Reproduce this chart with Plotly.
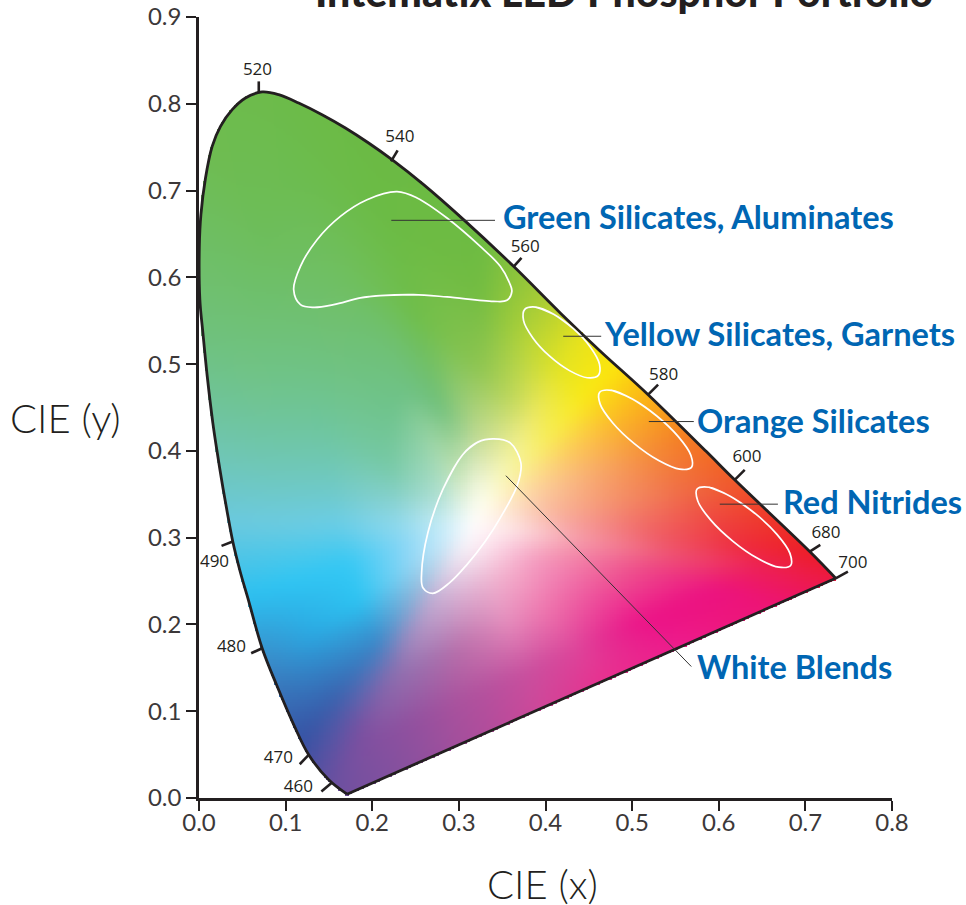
import numpy as np
import plotly.graph_objects as go

# Spectral locus (CIE x, y)
locus_x = [0.1709,0.1497,0.1266,0.1094,0.0895,0.0729,0.0565,0.0475,0.0390,0.0325,0.0277,0.0205,0.0160,0.0095,0.0045,0.0010,0.0004,0.0022,0.0075,0.0152,0.0248,0.0383,0.0536,0.0729,0.0920,0.1151,0.1421,0.1690,0.1958,0.2228,0.2593,0.3054,0.3631,0.4170,0.4627,0.5185,0.5857,0.6184,0.7050,0.7350]
locus_y = [0.0044,0.0210,0.0498,0.0843,0.1304,0.1726,0.2300,0.2610,0.2955,0.3300,0.3570,0.4015,0.4320,0.4860,0.5360,0.5740,0.6360,0.6722,0.7145,0.7509,0.7740,0.7932,0.8067,0.8136,0.8105,0.8009,0.7874,0.7721,0.7548,0.7356,0.7068,0.6665,0.6127,0.5590,0.5155,0.4648,0.3992,0.3666,0.2840,0.2532]

# Phosphor regions
green_x = [0.2477,0.2091,0.1863,0.1555,0.1324,0.1171,0.1093,0.1171,0.1363,0.1632,0.1940,0.2286,0.2517,0.2863,0.3247,0.3478,0.3585,0.3612,0.3555,0.3400,0.2863,0.2477]
green_y = [0.5801,0.5789,0.5763,0.5685,0.5654,0.5685,0.5858,0.6127,0.6434,0.6703,0.6895,0.6987,0.6915,0.6684,0.6357,0.6127,0.5935,0.5839,0.5735,0.5723,0.5774,0.5801]
yellow_x = [0.4325,0.4094,0.3887,0.3760,0.3747,0.3852,0.4045,0.4277,0.4483,0.4610,0.4623,0.4519,0.4325]
yellow_y = [0.5406,0.5575,0.5657,0.5630,0.5501,0.5305,0.5094,0.4925,0.4843,0.4870,0.4999,0.5195,0.5406]
orange_x = [0.5285,0.5003,0.4761,0.4625,0.4631,0.4777,0.5025,0.5307,0.5549,0.5685,0.5679,0.5533,0.5285]
orange_y = [0.4402,0.4597,0.4698,0.4676,0.4539,0.4322,0.4084,0.3889,0.3789,0.3810,0.3948,0.4164,0.4402]
red_x = [0.6419,0.6132,0.5887,0.5750,0.5758,0.5908,0.6161,0.6448,0.6694,0.6830,0.6822,0.6672,0.6419]
red_y = [0.3279,0.3478,0.3581,0.3560,0.3422,0.3202,0.2961,0.2762,0.2660,0.2680,0.2819,0.3038,0.3279]
white_x = [0.2815,0.3046,0.3219,0.3405,0.3593,0.3716,0.3677,0.3478,0.3305,0.3093,0.2891,0.2699,0.2585,0.2570,0.2642,0.2815]
white_y = [0.3556,0.3959,0.4101,0.4138,0.4092,0.3861,0.3612,0.3228,0.2959,0.2690,0.2479,0.2358,0.2423,0.2596,0.3057,0.3556]

# Wavelength marks
wave_names = ["520","540","560","580","600","680","700","490","480","470","460"]
wave_x0 = [0.0690,0.2217,0.3635,0.5185,0.6184,0.7050,0.7350,0.0390,0.0729,0.1266,0.1536]
wave_y0 = [0.8131,0.7336,0.6127,0.4649,0.3666,0.2840,0.2532,0.2955,0.1726,0.0498,0.0179]
wave_x1 = [0.0690,0.2293,0.3723,0.5300,0.6300,0.7172,0.7491,0.0260,0.0602,0.1163,0.1413]
wave_y1 = [0.8258,0.7463,0.6224,0.4764,0.3781,0.2917,0.2609,0.2905,0.1668,0.0389,0.0075]
wave_lx = [0.0675,0.2318,0.3766,0.5363,0.6326,0.7238,0.7549,0.0179,0.0375,0.0917,0.1148]
wave_ly = [0.8382,0.7609,0.6342,0.4867,0.3923,0.3047,0.2702,0.2713,0.1734,0.0455,0.0121]

# Family labels and leaders
fam_names = ["Green Silicates, Aluminates","Yellow Silicates, Garnets","Orange Silicates","Red Nitrides","White Blends"]
fam_x = [0.3484,0.4649,0.5722,0.6714,0.5722]
fam_y = [0.6700,0.5351,0.4349,0.3416,0.1515]
lead_x0 = [0.2220,0.4205,0.5193,0.6012,0.3543]
lead_y0 = [0.6657,0.5321,0.4338,0.3386,0.3714]
lead_x1 = [0.3417,0.4643,0.5712,0.6683,0.5683]
lead_y1 = [0.6657,0.5321,0.4338,0.3386,0.1515]

x_ticks = [0.0,0.1,0.2,0.3,0.4,0.5,0.6,0.7,0.8]
y_ticks = [0.0,0.1,0.2,0.3,0.4,0.5,0.6,0.7,0.8,0.9]

# Colours sampled along rays leaving the white point, at fractions of the way to the locus
white_pt = (0.315, 0.317)
ray_deg = [-162,-145,-128,-118,-95,-70,-50,-30,-15,-5,8,22,35,48,60,72,88,105,125,145,165,180]
ring_t = [0.0,0.12,0.30,0.55,0.80,1.00]
ring_00 = ["#ffffff"]*22
ring_12 = ["#c8ecfa","#d0ecfa","#d8e6f4","#efe8f4","#f8f0f6","#fbeaf3","#fde6ef","#fde4ed","#fde4e8","#fde6e6","#fee9dd","#fef0e0","#fff6e0","#fffbe8","#fdfde8","#f8fbe8","#f2f7e4","#c8e4b4","#a8dcc0","#b0e0d8","#c0e8ec","#c8ecf6"]
ring_30 = ["#88d6f6","#92d6f4","#98bcdc","#c0a8d0","#e0b4d4","#efb4d0","#f4aecb","#f49cc0","#f599b0","#f6a0a8","#f9b79c","#fbcca4","#fde0a0","#f9f2a0","#f6f6b0","#e4eaa8","#c0da94","#70c07c","#6ec38c","#76c9a6","#88d2d2","#90d9ec"]
ring_55 = ["#35c8f4","#2cc4f2","#3a86c8","#8c70b0","#bb70ab","#e48abb","#ee76ae","#ee5c9f","#ee4c8a","#ef5a66","#f48e6a","#f8ac70","#fcc860","#f8ee50","#eee96a","#c0d85c","#8cc450","#6fbe4a","#70c070","#6ec59a","#6fc9c4","#6bcde6"]
ring_80 = ["#2fc5f3","#2ba6e0","#3a62ae","#7c4fa0","#a9519d","#c84f9e","#dd449a","#ec1287","#ec1280","#ee2a3c","#ef6a45","#f58f3a","#fbb82a","#faea14","#e4e424","#bcd636","#72bc42","#6bbb44","#6dbd58","#70c386","#6fc7b8","#6ccbe0"]
ring_99 = ["#2cc0f0","#3a87c6","#3651a3","#6a50a0","#a04f9c","#cf4799","#e8308f","#ed1c8c","#ed1473","#ed1c26","#f0562a","#f47b20","#fbb016","#fce60c","#e6e21c","#a9cc34","#6cbb42","#6bba44","#6ebc50","#6fc17c","#6fc6b4","#6ac9df"]

BLACK = "#231f20"
BLUE = "#0066b3"


def hex_rgb(cs):
    return [[int(c[i:i + 2], 16) for i in (1, 3, 5)] for c in cs]


# Raster of the colour field, masked by the locus
step = 0.002
gx = np.arange(0.0, 0.76, step)
gy = np.arange(0.0, 0.83, step)
X, Y = np.meshgrid(gx, gy)
lx, ly = np.array(locus_x), np.array(locus_y)

# distance from the white point to the locus for every direction
table_deg = np.arange(-180.0, 180.5, 0.5)
dirs = np.stack([np.cos(np.radians(table_deg)), np.sin(np.radians(table_deg))], 1)
ax, ay = lx - white_pt[0], ly - white_pt[1]
bx, by = np.roll(ax, -1) - ax, np.roll(ay, -1) - ay
reach = np.zeros(len(table_deg))
for k, (dx, dy) in enumerate(dirs):
    det = dx * by - dy * bx + 1e-12
    s = (ax * by - ay * bx) / det
    u = (ax * dy - ay * dx) / det
    reach[k] = s[(s > 0) & (u >= 0) & (u <= 1)].min()

ang = np.degrees(np.arctan2(Y - white_pt[1], X - white_pt[0]))
rad = np.hypot(X - white_pt[0], Y - white_pt[1])
frac = np.clip(rad / np.interp(ang, table_deg, reach), 0, 1)

rings = np.array([hex_rgb(r) for r in (ring_00, ring_12, ring_30, ring_55, ring_80, ring_99)], float)  # ring, ray, rgb
rays = np.array(ray_deg + [ray_deg[0] + 360], float)
rings = np.concatenate([rings, rings[:, :1]], 1)
ang2 = np.where(ang < rays[0], ang + 360, ang)
ri = np.clip(np.searchsorted(rays, ang2) - 1, 0, len(rays) - 2)
ra = (ang2 - rays[ri]) / (rays[ri + 1] - rays[ri])
ti = np.clip(np.searchsorted(ring_t, frac) - 1, 0, len(ring_t) - 2)
t_arr = np.array(ring_t)
ta = (frac - t_arr[ti]) / (t_arr[ti + 1] - t_arr[ti])
field = ((1 - ta)[..., None] * ((1 - ra)[..., None] * rings[ti, ri] + ra[..., None] * rings[ti, ri + 1])
         + ta[..., None] * ((1 - ra)[..., None] * rings[ti + 1, ri] + ra[..., None] * rings[ti + 1, ri + 1]))

# soften the joins between rays
kernel = np.exp(-0.5 * (np.arange(-10, 11) / 4.5) ** 2)
kernel /= kernel.sum()
pad = 10
padded = np.pad(field, ((pad, pad), (pad, pad), (0, 0)), mode="edge")
padded = np.apply_along_axis(lambda v: np.convolve(v, kernel, mode="same"), 0, padded)
padded = np.apply_along_axis(lambda v: np.convolve(v, kernel, mode="same"), 1, padded)
field = padded[pad:-pad, pad:-pad]

cx, cy = 0.3, 0.4
mx = (lx - cx) * 1.003 + cx
my = (ly - cy) * 1.003 + cy
inside = np.zeros(X.shape, bool)
for i in range(len(mx)):
    j = (i - 1) % len(mx)
    cond = (my[i] > Y) != (my[j] > Y)
    xc = (mx[j] - mx[i]) * (Y - my[i]) / (my[j] - my[i] + 1e-12) + mx[i]
    inside ^= cond & (X < xc)
field[~inside] = 255

fig = go.Figure()
fig.add_trace(go.Image(z=np.round(field).astype(int).tolist(), colormodel="rgb",
                       x0=float(gx[0]), dx=step, y0=float(gy[0]), dy=step, hoverinfo="skip"))
fig.add_trace(go.Scatter(x=locus_x, y=locus_y, mode="lines",
                         line=dict(color=BLACK, width=2.8, shape="spline", smoothing=1.0), hoverinfo="skip"))
fig.add_trace(go.Scatter(x=[locus_x[-1], locus_x[0]], y=[locus_y[-1], locus_y[0]], mode="lines",
                         line=dict(color=BLACK, width=2.8), hoverinfo="skip"))
for a, b, c, d in zip(wave_x0, wave_y0, wave_x1, wave_y1):
    fig.add_trace(go.Scatter(x=[a, c], y=[b, d], mode="lines", line=dict(color=BLACK, width=2.6), hoverinfo="skip"))
for rx, ry in [(green_x, green_y), (yellow_x, yellow_y), (orange_x, orange_y), (red_x, red_y), (white_x, white_y)]:
    fig.add_trace(go.Scatter(x=rx + rx[1:3], y=ry + ry[1:3], mode="lines",
                             line=dict(color="white", width=1.7, shape="spline", smoothing=1.0), hoverinfo="skip"))
for a, b, c, d in zip(lead_x0, lead_y0, lead_x1, lead_y1):
    fig.add_trace(go.Scatter(x=[a, c], y=[b, d], mode="lines", line=dict(color="#333333", width=1), hoverinfo="skip"))
fig.add_trace(go.Scatter(x=wave_lx, y=wave_ly, mode="text", text=wave_names,
                         textfont=dict(family="Open Sans", size=17, color=BLACK), cliponaxis=False, hoverinfo="skip"))

L, R, T, B = 198.5, 74, 17, 106.5
pw, ph = 966 - L - R, 905 - T - B
anns = [dict(x=a, y=b, text=t, xref="x", yref="y", xanchor="left", yanchor="middle", showarrow=False,
             font=dict(family="Lato", size=32.5, color=BLUE, weight=700)) for a, b, t in zip(fam_x, fam_y, fam_names)]
anns += [
    dict(x=(624 - L) / pw, y=(905 - B + 9) / ph, text="Intematix LED Phosphor Portfolio", xref="paper", yref="paper",
         xanchor="center", yanchor="middle", showarrow=False, font=dict(family="Lato", size=41, color=BLACK, weight=900)),
    dict(x=(65 - L) / pw, y=(905 - B - 418) / ph, text="CIE (y)", xref="paper", yref="paper", showarrow=False,
         xanchor="center", yanchor="middle", font=dict(family="Lato", size=40, color=BLACK, weight=300)),
    dict(x=(542 - L) / pw, y=(905 - B - 885) / ph, text="CIE (x)", xref="paper", yref="paper", showarrow=False,
         xanchor="center", yanchor="middle", font=dict(family="Lato", size=40, color=BLACK, weight=300)),
]

axis = dict(showgrid=False, zeroline=False, showline=True, linecolor=BLACK, linewidth=2.6, ticks="outside",
            ticklen=10, tickwidth=2.4, tickcolor=BLACK, tickfont=dict(family="Lato", size=24, color="#3c3839", weight=400))
fig.update_layout(
    width=966, height=905, margin=dict(l=L, r=R, t=T, b=B, autoexpand=False), autosize=False,
    paper_bgcolor="white", plot_bgcolor="white", showlegend=False, annotations=anns,
    xaxis=dict(range=[0, 0.8], tickvals=x_ticks, ticktext=[f"{v:.1f}" for v in x_ticks], scaleanchor=False,
               autorange=False, ticklabelstandoff=-9, **axis),
    yaxis=dict(range=[0, 0.9], tickvals=y_ticks, ticktext=[f"{v:.1f}" for v in y_ticks], scaleanchor=False, autorange=False, **axis),
)
fig.write_html("out.html", config=dict(displayModeBar=False),
               post_script="document.body.style.margin='0';document.body.style.overflow='hidden';")
